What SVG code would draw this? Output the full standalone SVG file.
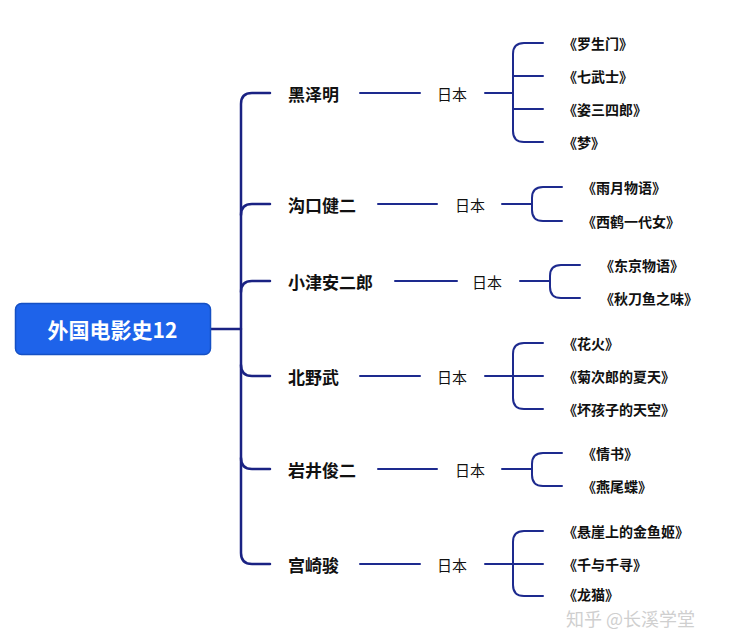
<svg xmlns="http://www.w3.org/2000/svg" width="740" height="644" viewBox="0 0 740 644">
<style>
  text { font-family: "Noto Sans CJK SC", "Noto Sans", sans-serif; dominant-baseline: central; }
  .root { fill: #fff; font-size: 21px; font-weight: 700; text-anchor: middle; }
  .name { fill: #111; font-size: 17px; font-weight: 700; }
  .country { fill: #111; font-size: 15px; font-weight: 400; }
  .film { fill: #111; font-size: 14px; font-weight: 700; }
  .ln { fill: none; stroke: #1d2a8e; stroke-width: 2; stroke-linecap: round; }
  .trunk { fill: none; stroke: #1a2283; stroke-width: 2.5; stroke-linecap: round; }
  .credit { fill: #cfcfcf; font-size: 18px; font-weight: 400; }
</style>
<rect width="740" height="644" fill="#fff"/>

<g id="connectors">
  <path class="trunk" d="M210,329 H241"/>
  <path class="trunk" d="M270,93 H252 Q241,93 241,104 V553 Q241,564 252,564 H270"/>
  <path class="trunk" d="M241,215 Q241,204 252,204 H270"/>
  <path class="trunk" d="M241,292 Q241,281 252,281 H270"/>
  <path class="trunk" d="M241,365 Q241,376 252,376 H270"/>
  <path class="trunk" d="M241,458 Q241,469 252,469 H270"/>

  <path class="ln" d="M360,93 H420"/>
  <path class="ln" d="M378,204 H437"/>
  <path class="ln" d="M395,281 H457"/>
  <path class="ln" d="M360,376 H420"/>
  <path class="ln" d="M378,469 H437"/>
  <path class="ln" d="M360,564 H420"/>

  <path class="ln" d="M485,93 H513"/>
  <path class="ln" d="M543,43 H524 Q513,43 513,54 V131 Q513,142 524,142 H543 M513,76 H543 M513,109 H543"/>

  <path class="ln" d="M502,204 H532"/>
  <path class="ln" d="M562,187 H543 Q532,187 532,198 V210 Q532,221 543,221 H562"/>

  <path class="ln" d="M520,281 H550"/>
  <path class="ln" d="M580,265 H561 Q550,265 550,276 V287 Q550,298 561,298 H580"/>

  <path class="ln" d="M485,376 H543"/>
  <path class="ln" d="M543,343 H524 Q513,343 513,354 V398 Q513,409 524,409 H543"/>

  <path class="ln" d="M502,469 H532"/>
  <path class="ln" d="M562,453 H543 Q532,453 532,464 V475 Q532,486 543,486 H562"/>

  <path class="ln" d="M485,564 H543"/>
  <path class="ln" d="M543,531 H524 Q513,531 513,542 V585 Q513,596 524,596 H543"/>
</g>

<g id="root">
  <rect x="15.5" y="303.5" width="195" height="51" rx="6" fill="#1e63ea" stroke="#1550c4" stroke-width="1.5"/>
  <text class="root" x="112.5" y="329">外国电影史12</text>
</g>

<g id="kurosawa">
  <text class="name" x="288" y="93">黑泽明</text>
  <text class="country" x="437" y="93">日本</text>
  <text class="film" x="563" y="43">《罗生门》</text>
  <text class="film" x="563" y="76">《七武士》</text>
  <text class="film" x="563" y="109">《姿三四郎》</text>
  <text class="film" x="563" y="142">《梦》</text>
</g>

<g id="mizoguchi">
  <text class="name" x="288" y="204">沟口健二</text>
  <text class="country" x="455" y="204">日本</text>
  <text class="film" x="582" y="187">《雨月物语》</text>
  <text class="film" x="582" y="221">《西鹤一代女》</text>
</g>

<g id="ozu">
  <text class="name" x="288" y="281">小津安二郎</text>
  <text class="country" x="472" y="281">日本</text>
  <text class="film" x="600" y="265">《东京物语》</text>
  <text class="film" x="600" y="298">《秋刀鱼之味》</text>
</g>

<g id="kitano">
  <text class="name" x="288" y="376">北野武</text>
  <text class="country" x="437" y="376">日本</text>
  <text class="film" x="563" y="343">《花火》</text>
  <text class="film" x="563" y="376">《菊次郎的夏天》</text>
  <text class="film" x="563" y="409">《坏孩子的天空》</text>
</g>

<g id="iwai">
  <text class="name" x="288" y="469">岩井俊二</text>
  <text class="country" x="455" y="469">日本</text>
  <text class="film" x="582" y="453">《情书》</text>
  <text class="film" x="582" y="486">《燕尾蝶》</text>
</g>

<g id="miyazaki">
  <text class="name" x="288" y="564">宫崎骏</text>
  <text class="country" x="437" y="564">日本</text>
  <text class="film" x="563" y="531">《悬崖上的金鱼姬》</text>
  <text class="film" x="563" y="564">《千与千寻》</text>
  <text class="film" x="563" y="594">《龙猫》</text>
</g>

<text class="credit" x="566" y="618">知乎 @长溪学堂</text>
</svg>
